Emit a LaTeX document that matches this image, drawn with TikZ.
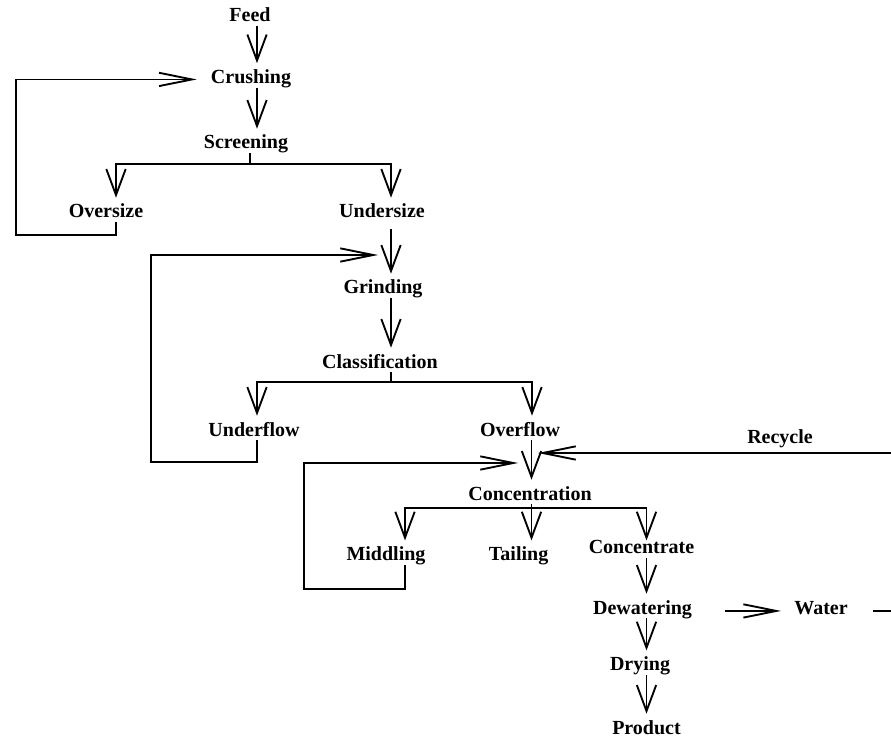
\documentclass[tikz,border=0pt]{standalone}
\usepackage{fontspec}
\setmainfont{Liberation Serif}
\usetikzlibrary{arrows.meta,calc}
\begin{document}
\begin{tikzpicture}[x=0.75pt,y=-0.75pt,
  lbl/.style={font=\fontsize{15}{18}\selectfont\bfseries, inner sep=0pt, text height=15pt, text depth=3pt, anchor=base},
  flow/.style={line width=1.4pt},
  va/.style={flow, -{Straight Barb[length=19.5pt,width=14.5pt]}},
  ha/.style={flow, -{Straight Barb[length=24.75pt,width=10pt]}},
]
\useasboundingbox (0,0) rectangle (891,741);

% labels
\node[lbl] (feed) at (250,22) {Feed};
\node[lbl] (crushing) at (251,83.5) {Crushing};
\node[lbl] (screening) at (246,149) {Screening};
\node[lbl] (oversize) at (106,218) {Oversize};
\node[lbl] (undersize) at (382,218) {Undersize};
\node[lbl] (grinding) at (383,294) {Grinding};
\node[lbl] (classification) at (380,368) {Classification};
\node[lbl] (underflow) at (254,436) {Underflow};
\node[lbl] (overflow) at (520,436) {Overflow};
\node[lbl] (recycle) at (780,443) {Recycle};
\node[lbl] (concentration) at (530,500) {Concentration};
\node[lbl] (middling) at (386,560.7) {Middling};
\node[lbl] (tailing) at (518.6,560.7) {Tailing};
\node[lbl] (concentrate) at (641.5,553.3) {Concentrate};
\node[lbl] (dewatering) at (642.5,614) {Dewatering};
\node[lbl] (water) at (821,614) {Water};
\node[lbl] (drying) at (640,670.7) {Drying};
\node[lbl] (product) at (646.5,734) {Product};

% helper coordinates
\coordinate (c1) at (257,0);
\coordinate (c2) at (250,164);
\coordinate (c3) at (116,164);
\coordinate (c4) at (391,164);
\coordinate (c5) at (16,235);
\coordinate (c6) at (391,382);
\coordinate (c7) at (257,382);
\coordinate (c8) at (532,382);
\coordinate (c9) at (151,462);
\coordinate (c10) at (531.5,508);
\coordinate (c11) at (405,508);
\coordinate (c12) at (646.5,508);
\coordinate (c13) at (304,589);
\coordinate (ustart) at (391,229);
\coordinate (gtip) at (378,255);
\coordinate (mtip) at (518,463);
\coordinate (rtip) at (538,453);
\coordinate (edgeR) at (891,453);
\coordinate (edgeW) at (891,610);

% crushing / screening
\draw[va] (feed.south -| c1) -- (crushing.north -| c1);
\draw[va] (crushing.south -| c1) -- (screening.north -| c1);
\draw[flow] (screening.south -| c2) -- (c2);
\draw[va] (c2) -| (oversize.north -| c3);
\draw[va] (c2) -| (undersize.north -| c4);
\draw[ha] (oversize.south -| c3) |- (c5) |- ($(crushing.mid west)+(-14,-1)$);

% grinding / classification
\draw[va] (ustart) -- (grinding.north -| c4);
\draw[ha] (underflow.south -| c7) |- (c9) |- (gtip);
\draw[va] (grinding.south -| c6) -- (classification.north -| c6);
\draw[flow] (classification.south -| c6) -- (c6);
\draw[va] (c6) -| (underflow.north -| c7);
\draw[va] (c6) -| (overflow.north -| c8);

% concentration
\draw[va] (overflow.south -| c10) -- (concentration.north -| c10);
\draw[ha] (edgeR) -- (rtip);
\draw[va] (concentration.south -| c10) -- (tailing.north -| c10);
\draw[va] (c10) -| (middling.north -| c11);
\draw[va] (c10) -| (c12 |- middling.north);
\draw[ha] (middling.south -| c11) |- (c13) |- (mtip);

% product line
\draw[va] (concentrate.south -| c12) -- (dewatering.north -| c12);
\draw[ha] ($(dewatering.mid east)+(33,0)$) -- ($(water.mid west)+(-13,0)$);
\draw[flow] ($(water.mid east)+(25,0)$) -- (edgeW |- water.mid east);
\draw[va] (dewatering.south -| c12) -- (drying.north -| c12);
\draw[va] (drying.south -| c12) -- (product.north -| c12);
\end{tikzpicture}
\end{document}
